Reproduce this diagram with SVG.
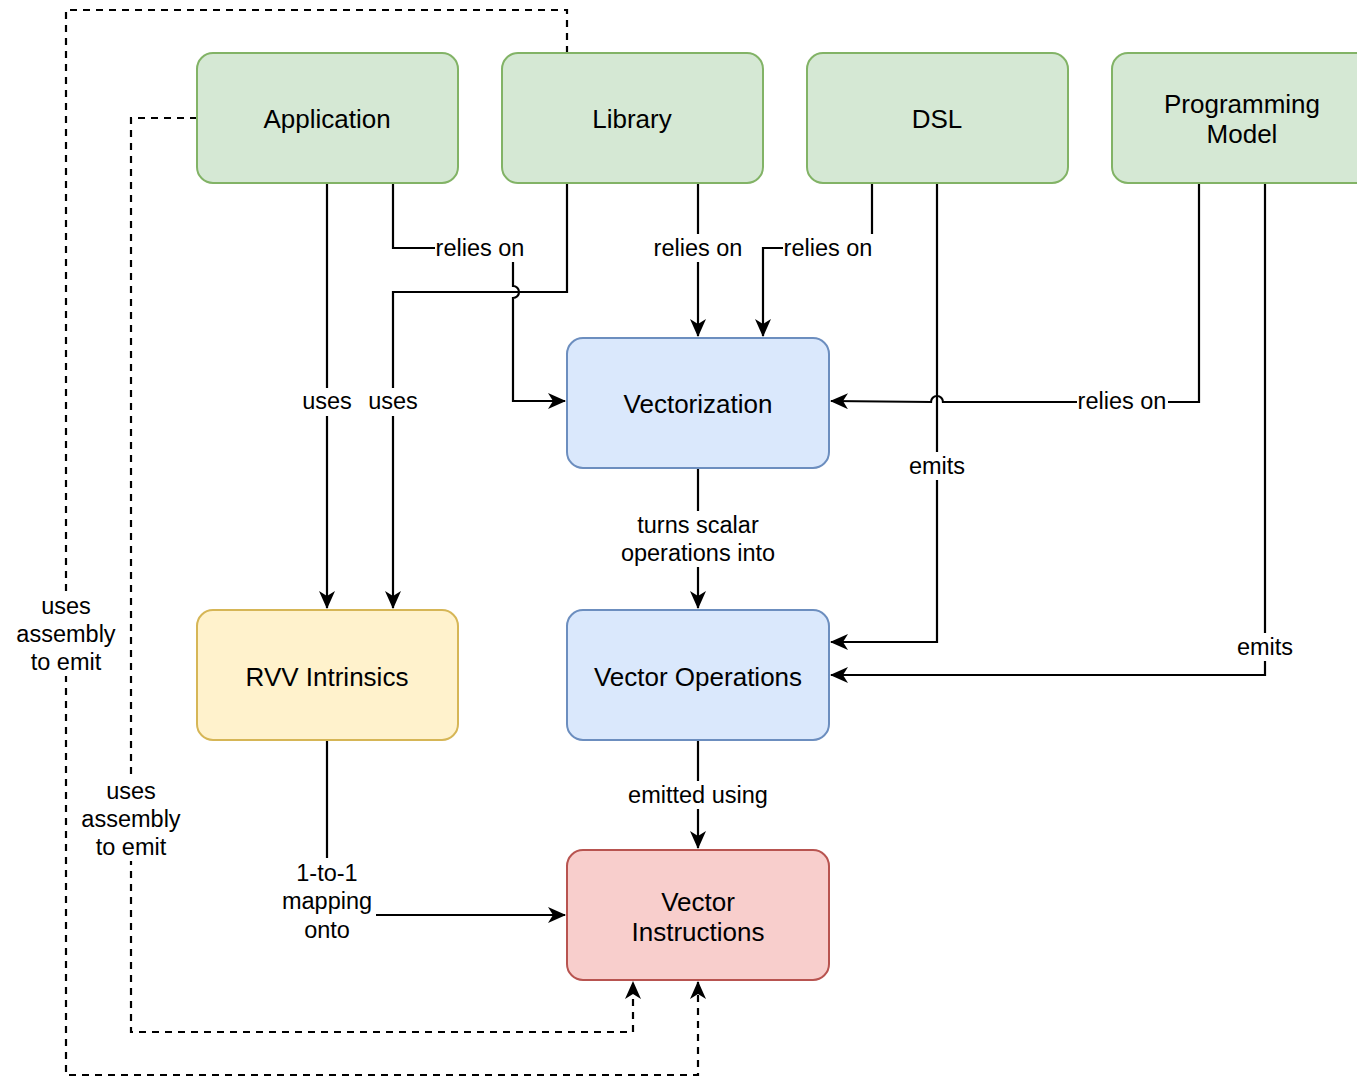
<svg xmlns="http://www.w3.org/2000/svg" width="1357" height="1077" viewBox="0 0 1357 1077">
<style>
.node{stroke-width:2}
.g{fill:#d5e8d4;stroke:#82b366}
.b{fill:#dae8fc;stroke:#6c8ebf}
.y{fill:#fff2cc;stroke:#d6b656}
.r{fill:#f8cecc;stroke:#b85450}
.nt{font-family:"Liberation Sans",Arial,sans-serif;font-size:26px;fill:#000;text-anchor:middle}
.lt{font-family:"Liberation Sans",Arial,sans-serif;font-size:23.5px;fill:#000;text-anchor:middle}
.e{fill:none;stroke:#000;stroke-width:2.2}
.d{stroke-dasharray:7 6}
.bg{fill:#fff}
</style>
<defs>
<marker id="arr" viewBox="0 0 18 16" refX="17" refY="8" markerWidth="18" markerHeight="16" markerUnits="userSpaceOnUse" orient="auto">
<path d="M0,0 L18,8 L0,16 L5,8 Z" fill="#000"/>
</marker>
</defs>
<rect width="1357" height="1077" fill="#fff"/>
<g id="connectors">
<path class="e d" d="M567,53 V10 H66 V1075 H698 V982" marker-end="url(#arr)"/>
<path class="e d" d="M197,118 H131 V1032 H633 V982" marker-end="url(#arr)"/>
<path class="e" d="M327,183 V608" marker-end="url(#arr)"/>
<path class="e" d="M567,183 V292 H393 V608" marker-end="url(#arr)"/>
<path class="e" d="M393,183 V248 H513 V286 A6,6 0 0 1 513,298 V401 H565" marker-end="url(#arr)"/>
<path class="e" d="M698,183 V336" marker-end="url(#arr)"/>
<path class="e" d="M872,183 V248 H763 V336" marker-end="url(#arr)"/>
<path class="e" d="M937,183 V642 H831" marker-end="url(#arr)"/>
<path class="e" d="M1199,183 V402 H943 A6,6 0 0 0 931,402 L831,401" marker-end="url(#arr)"/>
<path class="e" d="M1265,183 V675 H831" marker-end="url(#arr)"/>
<path class="e" d="M698,468 V608" marker-end="url(#arr)"/>
<path class="e" d="M698,740 V848" marker-end="url(#arr)"/>
<path class="e" d="M327,740 V915 H565" marker-end="url(#arr)"/>
<g id="labels">
<rect class="bg" x="435" y="234" width="91" height="28"/><text class="lt" x="480" y="256">relies on</text>
<rect class="bg" x="652" y="234" width="92" height="28"/><text class="lt" x="698" y="256">relies on</text>
<rect class="bg" x="783" y="234" width="91" height="28"/><text class="lt" x="828" y="256">relies on</text>
<rect class="bg" x="1077" y="388" width="91" height="28"/><text class="lt" x="1122" y="409">relies on</text>
<rect class="bg" x="301" y="388" width="53" height="28"/><text class="lt" x="327" y="409">uses</text>
<rect class="bg" x="367" y="388" width="53" height="28"/><text class="lt" x="393" y="409">uses</text>
<rect class="bg" x="908" y="452" width="59" height="28"/><text class="lt" x="937" y="474">emits</text>
<rect class="bg" x="1235" y="633" width="59" height="28"/><text class="lt" x="1265" y="655">emits</text>
<rect class="bg" x="617" y="511" width="162" height="56"/><text class="lt" x="698" y="533">turns scalar</text><text class="lt" x="698" y="561">operations into</text>
<rect class="bg" x="624" y="781" width="148" height="28"/><text class="lt" x="698" y="803">emitted using</text>
<rect class="bg" x="279" y="858" width="97" height="85"/><text class="lt" x="327" y="881">1-to-1</text><text class="lt" x="327" y="909">mapping</text><text class="lt" x="327" y="938">onto</text>
<rect class="bg" x="13" y="592" width="106" height="84"/><text class="lt" x="66" y="614">uses</text><text class="lt" x="66" y="642">assembly</text><text class="lt" x="66" y="670">to emit</text>
<rect class="bg" x="78" y="777" width="106" height="84"/><text class="lt" x="131" y="799">uses</text><text class="lt" x="131" y="827">assembly</text><text class="lt" x="131" y="855">to emit</text>
</g>
</g>
<g id="application"><rect class="node g" x="197" y="53" width="261" height="130" rx="16"/><text class="nt" x="327" y="128">Application</text></g>
<g id="library"><rect class="node g" x="502" y="53" width="261" height="130" rx="16"/><text class="nt" x="632" y="128">Library</text></g>
<g id="dsl"><rect class="node g" x="807" y="53" width="261" height="130" rx="16"/><text class="nt" x="937" y="128">DSL</text></g>
<g id="programming-model"><rect class="node g" x="1112" y="53" width="261" height="130" rx="16"/><text class="nt" x="1242" y="113">Programming</text><text class="nt" x="1242" y="143">Model</text></g>
<g id="vectorization"><rect class="node b" x="567" y="338" width="262" height="130" rx="16"/><text class="nt" x="698" y="413">Vectorization</text></g>
<g id="rvv-intrinsics"><rect class="node y" x="197" y="610" width="261" height="130" rx="16"/><text class="nt" x="327" y="686">RVV Intrinsics</text></g>
<g id="vector-operations"><rect class="node b" x="567" y="610" width="262" height="130" rx="16"/><text class="nt" x="698" y="686">Vector Operations</text></g>
<g id="vector-instructions"><rect class="node r" x="567" y="850" width="262" height="130" rx="16"/><text class="nt" x="698" y="911">Vector</text><text class="nt" x="698" y="941">Instructions</text></g>
</svg>
